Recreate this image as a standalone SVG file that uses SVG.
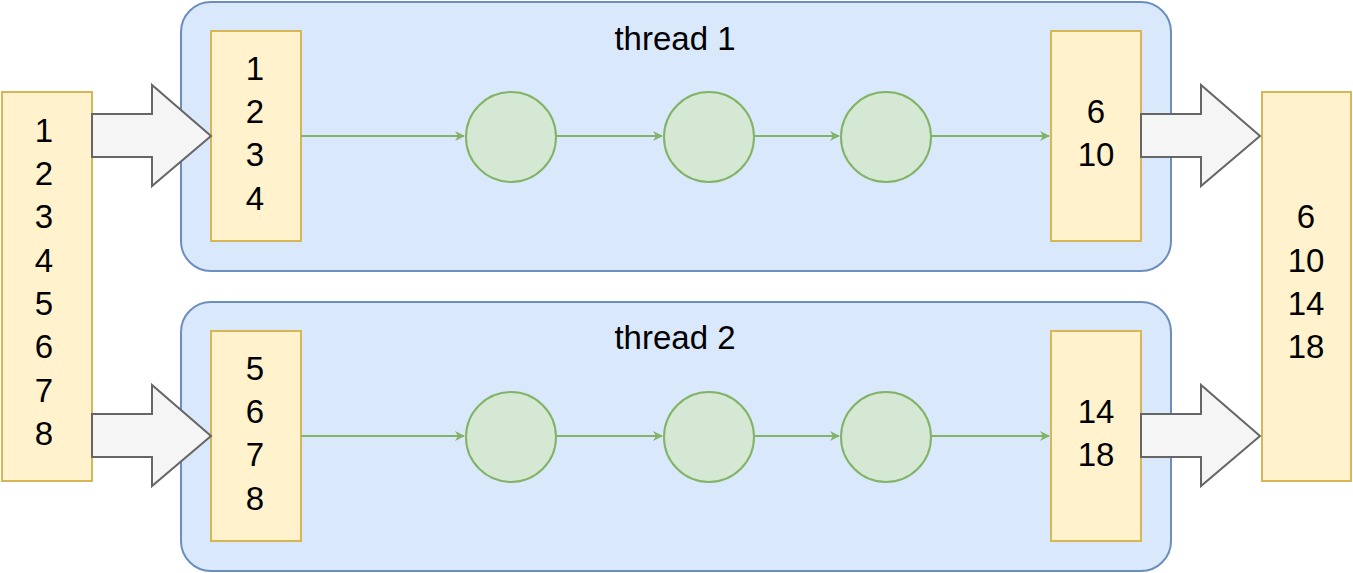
<svg xmlns="http://www.w3.org/2000/svg" width="1353" height="573" viewBox="0 0 1353 573">
<defs>
<style>
.t{font-family:"Liberation Sans",Arial,sans-serif;font-size:33px;fill:#000;text-anchor:middle}
.thr{fill:#dae8fc;stroke:#6c8ebf;stroke-width:2}
.y{fill:#fff2cc;stroke:#d6b656;stroke-width:2}
.c{fill:#d5e8d4;stroke:#82b366;stroke-width:2}
.ba{fill:#f5f5f5;stroke:#666;stroke-width:2}
.e{stroke:#82b366;stroke-width:2;fill:none;marker-end:url(#ah)}
</style>
<marker id="ah" viewBox="0 0 10 10" refX="9" refY="5" markerWidth="5" markerHeight="5" orient="auto" markerUnits="strokeWidth">
<path d="M0,0 L10,5 L0,10 L3,5 Z" fill="#82b366"/>
</marker>
</defs>
<g id="thread1"><rect class="thr" x="181" y="2" width="990" height="269" rx="30"/><text class="t" x="675" y="50">thread 1</text></g>
<g id="thread2"><rect class="thr" x="181" y="302" width="990" height="269" rx="30"/><text class="t" x="675" y="349">thread 2</text></g>
<g id="input"><rect class="y" x="2" y="92" width="90" height="389"/>
<text class="t" x="44" y="142">1</text><text class="t" x="44" y="185">2</text><text class="t" x="44" y="228">3</text><text class="t" x="44" y="272">4</text><text class="t" x="44" y="315">5</text><text class="t" x="44" y="358">6</text><text class="t" x="44" y="402">7</text><text class="t" x="44" y="445">8</text></g>
<g id="output"><rect class="y" x="1262" y="92" width="89" height="389"/>
<text class="t" x="1306" y="228">6</text><text class="t" x="1306" y="272">10</text><text class="t" x="1306" y="315">14</text><text class="t" x="1306" y="358">18</text></g>
<g id="in1"><rect class="y" x="211" y="31" width="90" height="210"/>
<text class="t" x="255" y="80">1</text><text class="t" x="255" y="123">2</text><text class="t" x="255" y="166">3</text><text class="t" x="255" y="210">4</text></g>
<g id="in2"><rect class="y" x="211" y="331" width="90" height="210"/>
<text class="t" x="255" y="380">5</text><text class="t" x="255" y="423">6</text><text class="t" x="255" y="466">7</text><text class="t" x="255" y="510">8</text></g>
<g id="out1"><rect class="y" x="1051" y="31" width="90" height="210"/>
<text class="t" x="1096" y="123">6</text><text class="t" x="1096" y="166">10</text></g>
<g id="out2"><rect class="y" x="1051" y="331" width="90" height="210"/>
<text class="t" x="1096" y="423">14</text><text class="t" x="1096" y="466">18</text></g>
<g id="c11"><circle class="c" cx="511" cy="137" r="45"/></g>
<g id="c12"><circle class="c" cx="709" cy="137" r="45"/></g>
<g id="c13"><circle class="c" cx="886" cy="137" r="45"/></g>
<g id="c21"><circle class="c" cx="511" cy="437" r="45"/></g>
<g id="c22"><circle class="c" cx="709" cy="437" r="45"/></g>
<g id="c23"><circle class="c" cx="886" cy="437" r="45"/></g>
<g id="connectors">
<path class="ba" d="M92,114 H152 V85 L211,136 L152,186 V157 H92 Z"/>
<path class="ba" d="M92,414 H152 V385 L211,436 L152,486 V457 H92 Z"/>
<path class="ba" d="M1141,114 H1201 V85 L1260,136 L1201,186 V157 H1141 Z"/>
<path class="ba" d="M1141,414 H1201 V385 L1260,436 L1201,486 V457 H1141 Z"/>
<path class="e" d="M301,136 H464"/><path class="e" d="M556,136 H662"/><path class="e" d="M754,136 H839"/><path class="e" d="M931,136 H1049"/>
<path class="e" d="M301,436 H464"/><path class="e" d="M556,436 H662"/><path class="e" d="M754,436 H839"/><path class="e" d="M931,436 H1049"/>
</g>
</svg>
